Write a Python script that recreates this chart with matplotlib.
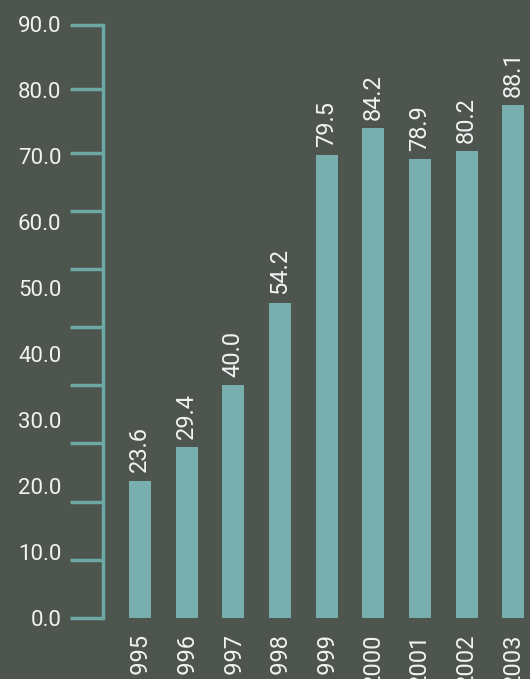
import numpy as np
import matplotlib
matplotlib.use("Agg")
import matplotlib.pyplot as plt

# данные
years = ['1995', '1996', '1997', '1998', '1999', '2000', '2001', '2002', '2003']
values = [23.6, 29.4, 40.0, 54.2, 79.5, 84.2, 78.9, 80.2, 88.1]
label_ticks = [0, 10, 20, 30, 40, 50, 60, 70, 80, 90]

BG = '#4E544E'
BAR = '#78AFAE'
AXIS = '#6FA9A6'
TXT = '#F2F2F2'

plt.rcParams['font.family'] = ['Roboto', 'DejaVu Sans']

fig = plt.figure(figsize=(5.30, 6.79), dpi=100, facecolor=BG)
ax = fig.add_axes([103 / 530, 61 / 679, 1 - 103 / 530, 593.5 / 679])
ax.set_facecolor(BG)

x = np.arange(len(years))
ax.bar(x, values, width=0.47, color=BAR)
for xi, v in zip(x, values):
    ax.annotate(f'{v:.1f}', (xi, v), xytext=(0, 6), textcoords='offset points',
                rotation=90, ha='center', va='bottom', color=TXT, fontsize=17)

ax.set_xlim(-0.79, 8.36)
ax.set_ylim(0, 102)

# засечки оси (их 11, подписей 10 — как в оригинале)
ax.set_yticks(list(range(0, 90, 10)) + [91, 102])
ax.set_yticklabels([])
ax.tick_params(axis='y', length=24, width=2.5, color=AXIS, direction='out')
ax.set_xticks(x)
ax.set_xticklabels(years, rotation=90, va='top', ha='center', color=TXT, fontsize=17)
ax.tick_params(axis='x', length=0, pad=11)

for s in ['top', 'right', 'bottom']:
    ax.spines[s].set_visible(False)
ax.spines['left'].set_color(AXIS)
ax.spines['left'].set_linewidth(2.5)

# подписи шкалы
ax2 = ax.twinx()
ax2.set_ylim(0, 90)
ax2.set_yticks(label_ticks)
ax2.set_yticklabels([f'{t:.1f}' for t in label_ticks], color=TXT, fontsize=16)
ax2.yaxis.tick_left()
ax2.tick_params(axis='y', length=0, pad=30)
for s in ax2.spines.values():
    s.set_visible(False)

fig.savefig('out.png', dpi=100, facecolor=BG)
